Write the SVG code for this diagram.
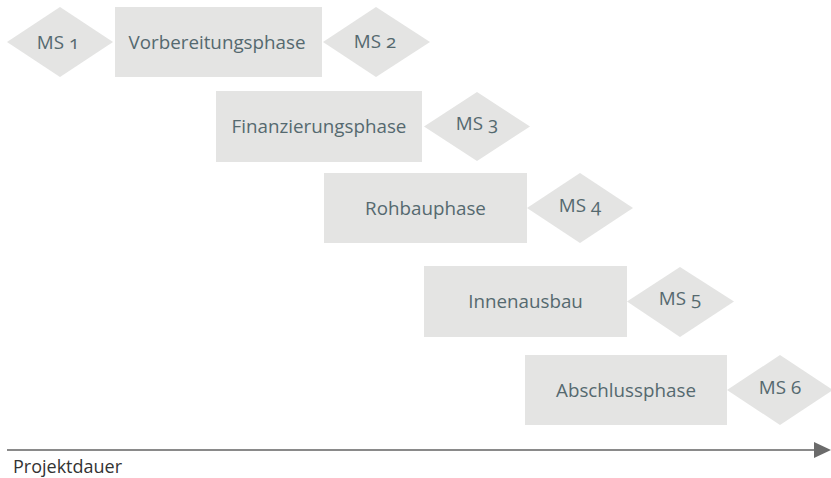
<svg xmlns="http://www.w3.org/2000/svg" width="831" height="478" viewBox="0 0 831 478">
<defs>
<style>
.box{fill:#e4e4e3;}
.lbl{font-family:"Open Sans","Noto Sans",sans-serif;font-size:18.8px;fill:#55696f;text-anchor:middle;font-feature-settings:"onum";}
.ms{font-family:"Open Sans","Noto Sans",sans-serif;font-size:18.8px;fill:#55696f;text-anchor:middle;font-feature-settings:"onum";}
.axis{stroke:#8a8a8a;stroke-width:2;fill:none;}
.ax{font-family:"Open Sans","Noto Sans",sans-serif;font-size:18px;fill:#333;}
</style>
<marker id="arr" markerUnits="userSpaceOnUse" markerWidth="18" markerHeight="18" refX="0" refY="8" orient="auto" viewBox="0 0 18 16">
<path d="M0,0 L17,8 L0,16 Z" fill="#6b6b6b"/>
</marker>
</defs>
<g id="ms1"><polygon class="box" points="7,42 60,7 113,42 60,77"/><text class="ms" x="58" y="49">MS 1</text></g>
<g id="vorbereitung"><rect class="box" x="115" y="7" width="207" height="70"/><text class="lbl" x="217" y="49">Vorbereitungsphase</text></g>
<g id="ms2"><polygon class="box" points="323,42 376,7 430,42 376,77"/><text class="ms" x="375" y="48">MS 2</text></g>
<g id="finanzierung"><rect class="box" x="216" y="91" width="206" height="71"/><text class="lbl" x="319" y="133">Finanzierungsphase</text></g>
<g id="ms3"><polygon class="box" points="424,126.5 477,92 530,126.5 477,161"/><text class="ms" x="477" y="130">MS 3</text></g>
<g id="rohbau"><rect class="box" x="324" y="173" width="203" height="70"/><text class="lbl" x="425.5" y="215">Rohbauphase</text></g>
<g id="ms4"><polygon class="box" points="527,208 580,173 633,208 580,243"/><text class="ms" x="580" y="212">MS 4</text></g>
<g id="innenausbau"><rect class="box" x="424" y="266" width="203" height="71"/><text class="lbl" x="525.5" y="308">Innenausbau</text></g>
<g id="ms5"><polygon class="box" points="627,301.5 680,267 734,301.5 680,337"/><text class="ms" x="680" y="305">MS 5</text></g>
<g id="abschluss"><rect class="box" x="525" y="355" width="202" height="70"/><text class="lbl" x="626" y="397">Abschlussphase</text></g>
<g id="ms6"><polygon class="box" points="727,390 780,355 833,390 780,425"/><text class="ms" x="780" y="394">MS 6</text></g>
<g id="connectors"><line class="axis" x1="7" y1="450" x2="814" y2="450" marker-end="url(#arr)"/></g>
<text class="ax" x="13" y="473">Projektdauer</text>
</svg>
